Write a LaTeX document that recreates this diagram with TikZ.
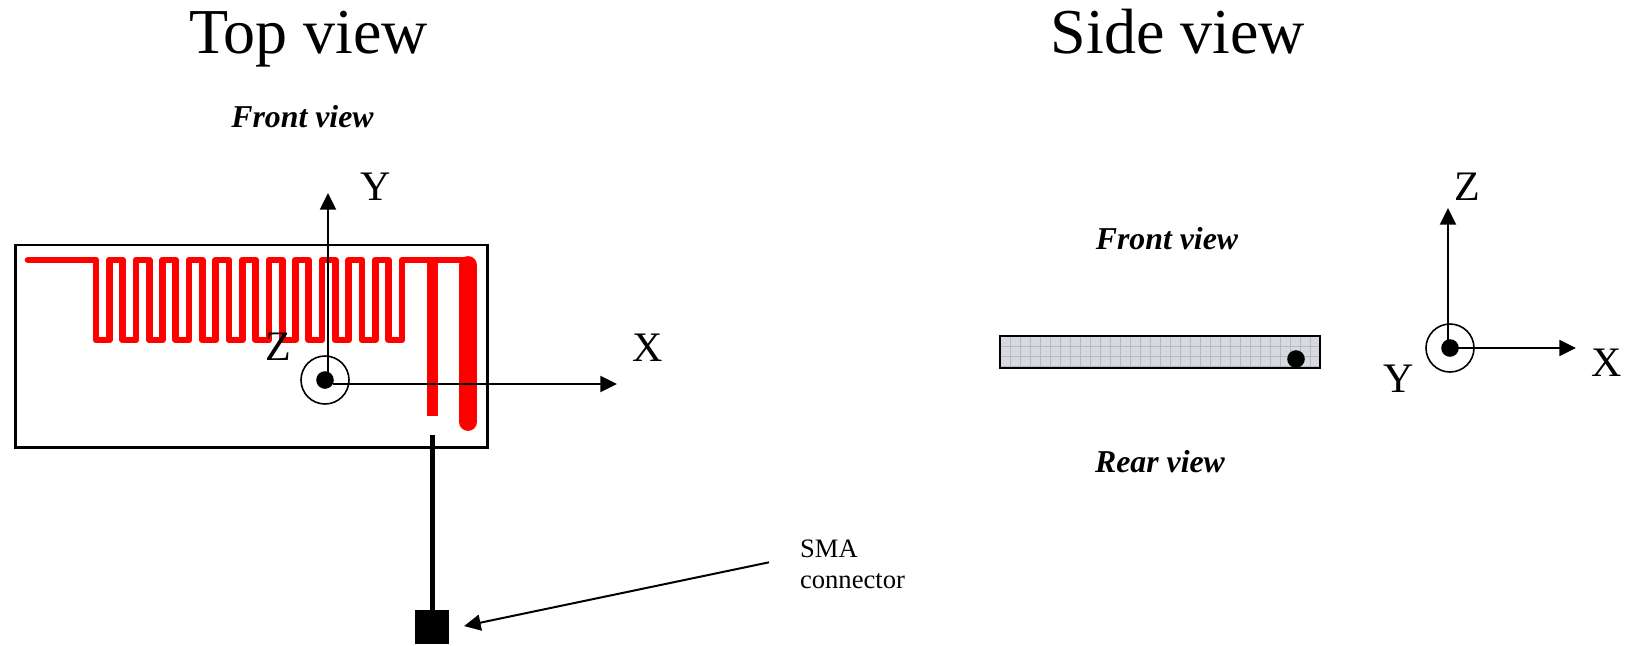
\documentclass[tikz,border=0pt]{standalone}
\usepackage{fontspec}
\setmainfont{Liberation Serif}
\usetikzlibrary{arrows.meta,positioning}
\tikzset{
  title/.style={font=\fontsize{32}{36}\selectfont,anchor=base},
  viewlabel/.style={font=\fontsize{15.9}{18}\selectfont\bfseries\itshape},
  axislabel/.style={font=\fontsize{21}{24}\selectfont},
  axis/.style={line width=1pt,-{Triangle[length=8.3pt,width=8pt]}},
  ring/.style={draw,circle,line width=0.8pt,minimum size=24pt,inner sep=0pt},
  dot/.style={fill=black,circle,minimum size=8.8pt,inner sep=0pt},
  trace/.style={red,line width=3.35pt,line join=round,line cap=round},
}
\begin{document}
\begin{tikzpicture}[x=0.5pt,y=-0.5pt]
        \useasboundingbox (0,0) rectangle (1629,645);

        % Titles
        \node[title] (toptitle) at (308.6,53) {T{}op view};
        \node[title] (sidetitle) at (1178,53) {Side view};
        \node[viewlabel] (topfront) at (302.5,117) {Front view};
        \node[viewlabel] (sidefront) at (1167,239) {Front view};
        \node[viewlabel] (siderear) at (1160,462) {Rear view};

        % Board
        \draw[line width=1.15pt] (15.5,245) rectangle (487.5,447.5);

        % Meander line
        \draw[trace] (28,260) -- (96,260)
            \foreach \k in {0,2,...,22} {
                -- ++(0,80) -- ++(13.3,0) -- ++(0,-80) -- ++(13.3,0)
            } -- (468,260);
        \draw[red,line width=5.7pt] (432.5,260) -- (432.5,416);
        \draw[red,line width=8.9pt,line cap=round,line join=round] (468,265) -- (468,422);

        % Top view axes
        \node[ring] (topring) at (325,380) {};
        \node[dot] (topdot) at (325,380) {};
        \coordinate (topybase) at (328,376);
        \coordinate (topytip) at (328,193);
        \coordinate (topxbase) at (333,384);
        \coordinate (topxtip) at (617,384);
        \draw[axis] (topybase) -- (topytip);
        \draw[axis] (topxbase) -- (topxtip);
        \node[axislabel] (topy) at (375.5,187) {Y};
        \node[axislabel] (topx) at (648,348) {X};
        \node[axislabel] (topz) at (278,347) {Z};

        % SMA connector
        \node[fill=black,minimum size=17pt,inner sep=0pt] (smabox) at (432,627) {};
        \coordinate (feedtop) at (432,435);
        \draw[line width=2.5pt] (feedtop) -- (smabox.north);
        \node[font=\fontsize{13.3}{15.5}\selectfont,align=left,anchor=west] (smatext) at (793,564.5) {SMA\\connector};
        \coordinate (smatail) at (769,562.3);
        \draw[axis,shorten >=7.5pt] (smatail) -- (smabox.-7);

        % Side view board
        \fill[fill={rgb,255:red,214;green,218;blue,222}] (1000,336) rectangle (1320,368);
        \begin{scope}
            \clip (1000,336) rectangle (1320,368);
            \foreach \k in {0,...,31}
                \draw[color={rgb,255:red,182;green,186;blue,192},line width=0.35pt] (1010+10*\k,336) -- (1010+10*\k,368);
            \foreach \k in {0,1,2}
                \draw[color={rgb,255:red,182;green,186;blue,192},line width=0.35pt] (1000,346+10*\k) -- (1320,346+10*\k);
        \end{scope}
        \draw[line width=1.1pt] (1000,336) rectangle (1320,368);
        \node[dot] (sidefeed) at (1296,359) {};

        % Side view axes
        \node[ring] (sidering) at (1450,348) {};
        \node[dot] (sidedot) at (1450,348) {};
        \coordinate (sidezbase) at (1448,344);
        \coordinate (sideztip) at (1448,208);
        \coordinate (sidexbase) at (1456,348);
        \coordinate (sidextip) at (1576,348);
        \draw[axis] (sidezbase) -- (sideztip);
        \draw[axis] (sidexbase) -- (sidextip);
        \node[axislabel] (sidez) at (1467,187) {Z};
        \node[axislabel] (sidey) at (1399,379) {Y};
        \node[axislabel] (sidex) at (1607,363) {X};
\end{tikzpicture}
\end{document}
